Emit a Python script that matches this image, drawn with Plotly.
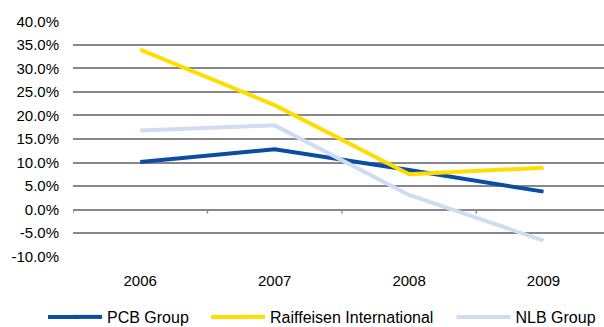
import plotly.graph_objects as go

years = ["2006", "2007", "2008", "2009"]
pcb = [10.1, 12.8, 8.4, 3.8]
raiffeisen = [34.0, 22.2, 7.5, 8.9]
nlb = [16.8, 17.9, 3.1, -6.6]
y_ticks = [-10, -5, 0, 5, 10, 15, 20, 25, 30, 35, 40]

names = ["PCB Group", "Raiffeisen International", "NLB Group"]
colors = ["#0B4DA2", "#FFDD00", "#CFDDF3"]
values = [pcb, raiffeisen, nlb]
legend_ids = ["legend", "legend2", "legend3"]
legend_x = [-0.0113, 0.2957, 0.758]      # paper positions of each legend entry
legend_y_container = 0.0306
legend_y_paper = -0.2542

fig = go.Figure()
for name, vals, col, lid in zip(names, values, colors, legend_ids):
    fig.add_trace(go.Scatter(x=years, y=vals, name=name, mode="lines",
                             line=dict(color=col, width=4), legend=lid))

# small tick marks on the zero line at category boundaries
for b in [-0.5, 0.5, 1.5, 2.5]:
    fig.add_shape(type="line", xref="x", yref="y", x0=b, x1=b,
                  ysizemode="pixel", yanchor=0, y0=0, y1=-4,
                  line=dict(color="#8C8C8C", width=1.5))

# lengthen legend line samples to the reference's longer keys
for lx, col in zip(legend_x, colors):
    fig.add_shape(type="line", xref="paper", yref="paper",
                  xsizemode="pixel", xanchor=lx, x0=-19, x1=12,
                  y0=legend_y_paper, y1=legend_y_paper,
                  line=dict(color=col, width=4))

leg_common = dict(orientation="h", xanchor="left", yanchor="middle", yref="container",
                  font=dict(size=16), itemwidth=30, bgcolor="rgba(0,0,0,0)")

fig.update_layout(
    width=604, height=327,
    margin=dict(l=73, r=0, t=21, b=70),
    paper_bgcolor="white", plot_bgcolor="white",
    font=dict(family="Liberation Sans, Arial, sans-serif", size=15, color="#000000"),
    showlegend=True,
    legend=dict(x=legend_x[0], y=legend_y_container, **leg_common),
    legend2=dict(x=legend_x[1], y=legend_y_container, **leg_common),
    legend3=dict(x=legend_x[2], y=legend_y_container, **leg_common),
    xaxis=dict(type="category", range=[-0.5, 3.45], showgrid=False, zeroline=False,
               showline=False, ticks="", ticklabelstandoff=13),
    yaxis=dict(range=[-10.1, 40.1], tickvals=y_ticks, ticktext=[f"{v:.1f}%" for v in y_ticks],
               showgrid=True, gridcolor="#888888", gridwidth=1.6,
               zeroline=True, zerolinecolor="#888888", zerolinewidth=1.6,
               showline=False, ticks="", ticklabelstandoff=13),
)

fig.write_html("out.html")
